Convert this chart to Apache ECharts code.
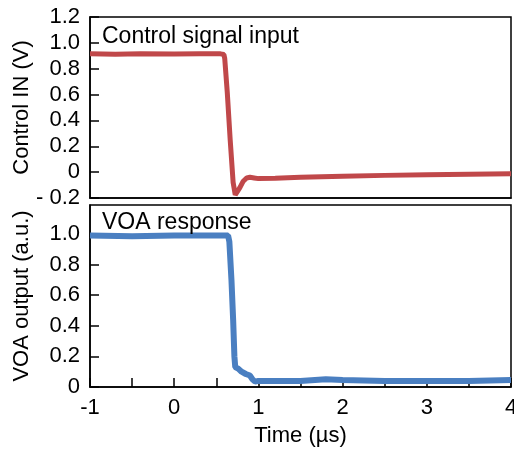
<!DOCTYPE html>
<html>
<head>
<meta charset="utf-8">
<script src="https://cdn.jsdelivr.net/npm/echarts@6/dist/echarts.min.js"></script>
<style>html,body{margin:0;padding:0;background:#fff}#c{width:514px;height:449px}</style>
</head>
<body>
<div id="c"></div>
<script>
var ctrlTime  = [-1.0, -0.7, -0.4, 0.0, 0.3, 0.55, 0.59, 0.60, 0.63, 0.665, 0.70, 0.725, 0.745, 0.78, 0.82, 0.86, 0.90, 0.95, 1.0, 1.2, 1.5, 2.0, 2.5, 3.0, 3.5, 4.0];
var ctrlValue = [0.915, 0.912, 0.915, 0.913, 0.915, 0.915, 0.91, 0.88, 0.62, 0.25, -0.08, -0.175, -0.17, -0.12, -0.07, -0.045, -0.04, -0.045, -0.05, -0.048, -0.04, -0.032, -0.025, -0.02, -0.016, -0.012];
var voaTime  = [-1.0, -0.5, 0.0, 0.5, 0.64, 0.655, 0.68, 0.70, 0.715, 0.725, 0.76, 0.80, 0.85, 0.90, 0.93, 0.96, 1.0, 1.5, 1.8, 2.0, 2.5, 3.0, 3.5, 4.0];
var voaValue = [0.99, 0.985, 0.99, 0.99, 0.99, 0.95, 0.70, 0.44, 0.20, 0.13, 0.12, 0.10, 0.085, 0.075, 0.05, 0.035, 0.04, 0.04, 0.05, 0.045, 0.04, 0.04, 0.04, 0.045];
var xTicks = [-1, 0, 1, 2, 3, 4];
var titles = ['Control signal input', 'VOA response'];
var yNames = ['Control IN (V)', 'VOA output (a.u.)'];
var xName = 'Time (\u00b5s)';

function pairs(t, v) { return t.map(function (x, i) { return [x, v[i]]; }); }
var FONT = 'Liberation Sans, Arial, Helvetica, sans-serif';
var chart = echarts.init(document.getElementById('c'));
var lineAx = { show: true, onZero: false, lineStyle: { color: '#000', width: 1.5 } };
chart.setOption({
  animation: false,
  backgroundColor: '#fff',
  title: [
    { text: titles[0], left: 102, top: 25, padding: 0, textStyle: { fontFamily: FONT, fontSize: 23, fontWeight: 'normal', color: '#000' } },
    { text: titles[1], left: 102, top: 211, padding: 0, textStyle: { fontFamily: FONT, fontSize: 23, fontWeight: 'normal', color: '#000' } }
  ],
  grid: [
    { left: 90, top: 17, width: 421, height: 181, show: true, borderColor: '#000', borderWidth: 1.5, backgroundColor: 'transparent', outerBoundsMode: 'none' },
    { left: 90, top: 205, width: 421, height: 182, show: true, borderColor: '#000', borderWidth: 1.5, backgroundColor: 'transparent', outerBoundsMode: 'none' }
  ],
  xAxis: [
    { type: 'value', gridIndex: 0, min: -1, max: 4, interval: 0.5,
      axisLine: lineAx,
      axisTick: { show: false }, axisLabel: { show: false }, splitLine: { show: false } },
    { type: 'value', gridIndex: 1, min: -1, max: 4, interval: 0.5,
      name: xName, nameLocation: 'middle', nameGap: 38, nameMoveOverlap: false,
      nameTextStyle: { fontFamily: FONT, fontSize: 22, color: '#000' },
      axisLine: lineAx,
      axisTick: { show: true, inside: true, length: 9, lineStyle: { color: '#000', width: 1.5 } },
      axisLabel: { fontFamily: FONT, fontSize: 22, color: '#000', margin: 10, showMaxLabel: true, showMinLabel: true,
        alignMinLabel: 'center', alignMaxLabel: 'center', hideOverlap: false,
        formatter: function (v) { return xTicks.indexOf(v) >= 0 ? String(v) : ''; } },
      splitLine: { show: false } }
  ],
  yAxis: [
    { type: 'value', gridIndex: 0, min: -0.2, max: 1.2, interval: 0.2,
      name: yNames[0], nameLocation: 'middle', nameGap: 57, nameMoveOverlap: false,
      nameTextStyle: { fontFamily: FONT, fontSize: 22, color: '#000' },
      axisLine: lineAx,
      axisTick: { show: true, inside: true, length: 9, lineStyle: { color: '#000', width: 1.5 } },
      axisLabel: { fontFamily: FONT, fontSize: 22, color: '#000', margin: 10,
        formatter: function (v) { v = Math.round(v * 10) / 10; if (v === 0) return '0'; if (v < 0) return '- ' + Math.abs(v).toFixed(1); return v.toFixed(1); } },
      splitLine: { show: false } },
    { type: 'value', gridIndex: 1, min: 0, max: 1.19, interval: 0.2,
      name: yNames[1], nameLocation: 'middle', nameGap: 57, nameMoveOverlap: false,
      nameTextStyle: { fontFamily: FONT, fontSize: 22, color: '#000' },
      axisLine: lineAx,
      axisTick: { show: true, inside: true, length: 9, lineStyle: { color: '#000', width: 1.5 } },
      axisLabel: { fontFamily: FONT, fontSize: 22, color: '#000', margin: 10, showMaxLabel: false,
        formatter: function (v) { v = Math.round(v * 10) / 10; if (v === 0) return '0'; return v.toFixed(1); } },
      splitLine: { show: false } }
  ],
  series: [
    { type: 'line', xAxisIndex: 0, yAxisIndex: 0, data: pairs(ctrlTime, ctrlValue), showSymbol: false, clip: false,
      lineStyle: { color: '#c0484a', width: 5 }, z: 1 },
    { type: 'line', xAxisIndex: 1, yAxisIndex: 1, data: pairs(voaTime, voaValue), showSymbol: false, clip: false,
      lineStyle: { color: '#4a7fc1', width: 6 }, z: 1 }
  ]
});
</script>
</body>
</html>
